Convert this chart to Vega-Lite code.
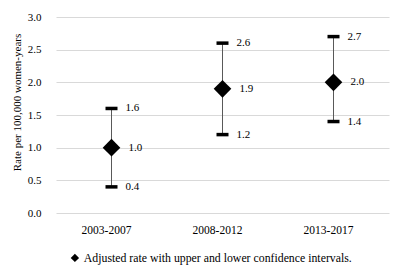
{
  "$schema": "https://vega.github.io/schema/vega-lite/v6.json",
  "width": 333,
  "height": 196,
  "autosize": "none",
  "padding": {"left": 56, "top": 17, "right": 10, "bottom": 65},
  "background": "white",
  "config": {
    "font": "Liberation Serif",
    "view": {"stroke": null},
    "axis": {"labelFont": "Liberation Serif", "titleFont": "Liberation Serif"},
    "axisY": {
      "values": [0, 0.5, 1, 1.5, 2, 2.5, 3],
      "tickCount": 7,
      "labelOverlap": false,
      "format": ".1f",
      "domain": false,
      "ticks": false,
      "grid": true,
      "gridColor": "#d9d9d9",
      "gridWidth": 1,
      "labelFontSize": 11,
      "labelColor": "#000000",
      "labelPadding": 15,
      "titleFontSize": 11,
      "titleFontWeight": "normal",
      "titleColor": "#000000",
      "titleX": -39,
      "titleY": 85,
      "titleAngle": -90,
      "titleAlign": "center",
      "titleBaseline": "middle"
    },
    "legend": {"labelFont": "Liberation Serif", "titleFont": "Liberation Serif"},
    "text": {"font": "Liberation Serif"}
  },
  "data": {
    "values": [
      {"period": "2003-2007", "rate": 1.0, "lower": 0.4, "upper": 1.6, "series": "Adjusted rate with upper and lower confidence intervals."},
      {"period": "2008-2012", "rate": 1.9, "lower": 1.2, "upper": 2.6, "series": "Adjusted rate with upper and lower confidence intervals."},
      {"period": "2013-2017", "rate": 2.0, "lower": 1.4, "upper": 2.7, "series": "Adjusted rate with upper and lower confidence intervals."}
    ]
  },
  "encoding": {
    "x": {
      "field": "period",
      "type": "nominal",
      "sort": null,
      "scale": {"paddingInner": 0, "paddingOuter": 0},
      "axis": {
        "title": null,
        "labelAngle": 0,
        "domain": false,
        "ticks": false,
        "grid": false,
        "labelFont": "Liberation Serif",
        "labelFontSize": 11.5,
        "labelColor": "#000000",
        "labelPadding": 11,
        "labelOffset": -5
      }
    }
  },
  "layer": [
    {
      "mark": {"type": "rule", "color": "#595959", "strokeWidth": 1},
      "encoding": {
        "y": {
          "field": "lower",
          "type": "quantitative",
          "scale": {"domain": [0, 3]},
          "axis": {
            "title": "Rate per 100,000 women-years",
            "values": [0, 0.5, 1, 1.5, 2, 2.5, 3],
            "labelOverlap": false
          }
        },
        "y2": {"field": "upper"}
      }
    },
    {
      "mark": {"type": "tick", "color": "#000000", "opacity": 1, "size": 12, "thickness": 3.5, "orient": "horizontal"},
      "encoding": {"y": {"field": "upper", "type": "quantitative", "axis": {"title": "Rate per 100,000 women-years", "values": [0, 0.5, 1, 1.5, 2, 2.5, 3], "labelOverlap": false}}}
    },
    {
      "mark": {"type": "tick", "color": "#000000", "opacity": 1, "size": 12, "thickness": 3.5, "orient": "horizontal"},
      "encoding": {"y": {"field": "lower", "type": "quantitative", "axis": {"title": "Rate per 100,000 women-years", "values": [0, 0.5, 1, 1.5, 2, 2.5, 3], "labelOverlap": false}}}
    },
    {
      "mark": {"type": "point", "shape": "diamond", "filled": true, "size": 310, "opacity": 1},
      "encoding": {
        "y": {"field": "rate", "type": "quantitative", "axis": {"title": "Rate per 100,000 women-years", "values": [0, 0.5, 1, 1.5, 2, 2.5, 3], "labelOverlap": false}},
        "color": {
          "field": "series",
          "type": "nominal",
          "scale": {"range": ["#000000"]},
          "legend": {
            "title": null,
            "orient": "none",
            "legendX": 13,
            "legendY": 235,
            "symbolType": "diamond",
            "symbolSize": 70,
            "symbolFillColor": "#000000",
            "symbolOpacity": 1,
            "symbolStrokeWidth": 0,
            "labelOffset": 3,
            "labelFont": "Liberation Serif",
            "labelFontSize": 11.8,
            "labelColor": "#000000",
            "labelLimit": 400
          }
        }
      }
    },
    {
      "mark": {"type": "text", "font": "Liberation Serif", "align": "left", "baseline": "middle", "dx": 14, "fontSize": 11, "color": "#000000"},
      "encoding": {
        "y": {"field": "upper", "type": "quantitative", "axis": {"title": "Rate per 100,000 women-years", "values": [0, 0.5, 1, 1.5, 2, 2.5, 3], "labelOverlap": false}},
        "text": {"field": "upper", "type": "quantitative", "format": ".1f"}
      }
    },
    {
      "mark": {"type": "text", "font": "Liberation Serif", "align": "left", "baseline": "middle", "dx": 14, "fontSize": 11, "color": "#000000"},
      "encoding": {
        "y": {"field": "lower", "type": "quantitative", "axis": {"title": "Rate per 100,000 women-years", "values": [0, 0.5, 1, 1.5, 2, 2.5, 3], "labelOverlap": false}},
        "text": {"field": "lower", "type": "quantitative", "format": ".1f"}
      }
    },
    {
      "mark": {"type": "text", "font": "Liberation Serif", "align": "left", "baseline": "middle", "dx": 17, "fontSize": 11, "color": "#000000"},
      "encoding": {
        "y": {"field": "rate", "type": "quantitative", "axis": {"title": "Rate per 100,000 women-years", "values": [0, 0.5, 1, 1.5, 2, 2.5, 3], "labelOverlap": false}},
        "text": {"field": "rate", "type": "quantitative", "format": ".1f"}
      }
    }
  ]
}
